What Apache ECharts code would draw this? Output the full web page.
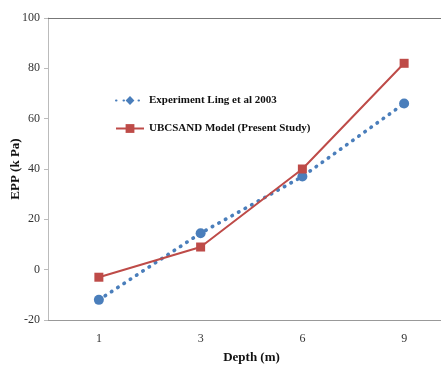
<!DOCTYPE html>
<html>
<head>
<meta charset="utf-8">
<script src="https://cdn.jsdelivr.net/npm/echarts@6/dist/echarts.min.js"></script>
<style>
  html, body { margin: 0; padding: 0; background: #fff; }
  #chart { width: 441px; height: 365px; }
</style>
</head>
<body>
<div id="chart"></div>
<script>
// Depth categories (m)
const depths = ['1', '3', '6', '9'];
// Excess pore pressure, kPa
const experimentEPP = [-12, 14.5, 37, 66];
const modelEPP = [-3, 9, 40, 82];
// Y axis range
const yMin = -20, yMax = 100, yStep = 20;

const serif = '"Liberation Serif", "Times New Roman", serif';
const chart = echarts.init(document.getElementById('chart'));

chart.setOption({
  animation: false,
  grid: { left: 48, top: 18, width: 407, height: 302, containLabel: false, outerBoundsMode: 'none' },
  legend: {
    left: 110, top: 90, orient: 'vertical', itemGap: 17,
    itemWidth: 28, itemHeight: 11,
    textStyle: { fontFamily: serif, fontWeight: 'bold', fontSize: 11, color: '#111' },
    data: ['Experiment Ling et al 2003', 'UBCSAND Model (Present Study)']
  },
  xAxis: [{
    type: 'category', data: depths, boundaryGap: true,
    name: 'Depth (m)', nameLocation: 'middle', nameGap: 31, nameMoveOverlap: false,
    nameTextStyle: { fontFamily: serif, fontWeight: 'bold', fontSize: 13, color: '#111' },
    axisLine: { onZero: false, lineStyle: { color: '#999', width: 1 } },
    axisTick: { inside: true, length: 4, lineStyle: { color: '#999' } },
    axisLabel: { fontFamily: serif, fontSize: 12, color: '#333', margin: 13 },
    splitLine: { show: false }
  }, {
    // top border of the plot area
    type: 'category', data: depths, position: 'top',
    axisLine: { onZero: false, lineStyle: { color: '#777', width: 1 } },
    axisTick: { show: false }, axisLabel: { show: false }
  }],
  yAxis: {
    type: 'value', min: yMin, max: yMax, interval: yStep,
    name: 'EPP (k Pa)', nameLocation: 'middle', nameGap: 26, nameMoveOverlap: false,
    nameTextStyle: { fontFamily: serif, fontWeight: 'bold', fontSize: 13, color: '#111' },
    axisLine: { show: true, onZero: false, lineStyle: { color: '#bbb', width: 1 } },
    axisTick: { show: true, length: 4, lineStyle: { color: '#bbb' } },
    axisLabel: { fontFamily: serif, fontSize: 12, color: '#333', margin: 8 },
    splitLine: { show: false }
  },
  series: [{
    name: 'Experiment Ling et al 2003',
    type: 'line',
    data: experimentEPP.map(v => ({ value: v, symbol: 'circle', symbolSize: 10 })),
    symbol: 'diamond', symbolSize: 11,
    lineStyle: { color: '#4a7ebb', width: 3.6, type: [0.5, 7], cap: 'round' },
    itemStyle: { color: '#4a7ebb' },
    z: 2
  }, {
    name: 'UBCSAND Model (Present Study)',
    type: 'line',
    data: modelEPP,
    symbol: 'rect', symbolSize: 9,
    lineStyle: { color: '#be4b48', width: 2 },
    itemStyle: { color: '#be4b48' },
    z: 3
  }]
});
</script>
</body>
</html>
